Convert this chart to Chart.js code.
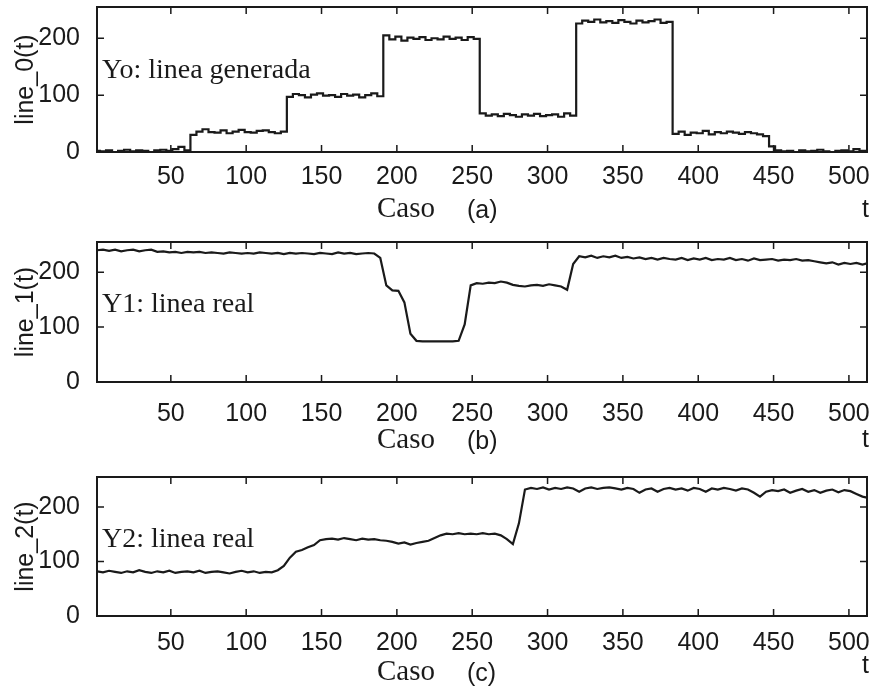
<!DOCTYPE html>
<html><head><meta charset="utf-8">
<script src="https://cdn.jsdelivr.net/npm/chart.js@4.4.1/dist/chart.umd.min.js"></script>
<style>
html,body{margin:0;padding:0;background:#fff;}
#wrap{position:relative;width:872px;height:687px;overflow:hidden;background:#fff;}
.pan{position:absolute;left:0;width:872px;}
canvas{display:block;}
</style></head><body>
<div id="wrap">
<div class="pan" style="top:0;height:230px"><canvas id="c0" width="872" height="230"></canvas></div>
<div class="pan" style="top:230px;height:230px"><canvas id="c1" width="872" height="230"></canvas></div>
<div class="pan" style="top:460px;height:227px"><canvas id="c2" width="872" height="227"></canvas></div>
</div>
<script>
// sample index (Caso)
const caso = [1,5,9,13,17,21,25,29,33,37,41,45,49,53,57,61,
65,69,73,77,81,85,89,93,97,101,105,109,113,117,121,125,
129,133,137,141,145,149,153,157,161,165,169,173,177,181,185,189,
193,197,201,205,209,213,217,221,225,229,233,237,241,245,249,253,
257,261,265,269,273,277,281,285,289,293,297,301,305,309,313,317,
321,325,329,333,337,341,345,349,353,357,361,365,369,373,377,381,
385,389,393,397,401,405,409,413,417,421,425,429,433,437,441,445,
449,453,457,461,465,469,473,477,481,485,489,493,497,501,505,509,
512];

// (a) Yo: linea generada
const line0 = [2,1,3,0,2,4,1,3,2,0,3,4,2,5,9,3,
30,36,40,35,34,38,33,36,39,35,34,37,38,35,33,36,
97,102,100,96,101,103,99,100,97,102,99,101,96,100,103,98,
205,198,203,196,201,199,202,197,200,198,203,199,201,197,202,199,
68,64,66,63,67,65,62,66,64,67,63,65,66,62,68,64,
226,231,229,233,228,230,227,232,229,226,231,228,230,233,227,229,
32,36,30,34,33,37,31,35,33,36,34,32,35,33,31,28,
10,3,1,2,0,3,1,2,4,1,0,2,3,1,5,2,
2];

// (b) Y1: linea real
const line1 = [240,241,239,241,238,240,241,238,240,241,237,238,236,237,235,237,
236,237,235,236,235,234,236,235,234,235,234,236,235,234,235,233,
235,234,235,234,233,235,234,233,236,234,235,233,234,235,234,226,
176,167,166,145,88,75,74,74,74,74,74,74,75,105,176,180,
179,181,180,183,181,177,175,174,176,177,175,178,176,174,168,215,
229,227,230,226,229,227,230,226,228,225,227,224,226,223,226,224,
223,226,222,225,223,226,222,224,223,226,222,224,221,225,222,223,
224,221,223,222,224,221,222,220,218,216,218,214,217,215,217,214,
216];

// (c) Y2: linea real
const line2 = [82,80,83,81,79,82,80,84,81,79,82,80,83,79,81,82,
80,83,79,81,82,80,78,81,83,80,82,79,81,80,84,92,
107,118,121,126,130,139,141,142,140,143,141,139,142,140,141,139,
138,136,133,135,131,134,136,138,143,148,151,150,152,150,151,150,
152,150,151,148,141,132,170,232,235,233,236,232,235,233,236,234,
228,234,236,233,235,236,234,232,235,233,226,232,234,228,233,235,
232,234,230,235,233,228,234,232,235,233,230,234,232,226,219,228,
231,229,232,226,230,233,228,231,226,230,232,227,231,229,224,219,
217];

const xTicks = [50,100,150,200,250,300,350,400,450,500];
const yTicks = [0,100,200];
const yTitles = ['line_0(t)','line_1(t)','line_2(t)'];
const notes = ['Yo: linea generada','Y1: linea real','Y2: linea real'];
const letters = ['(a)','(b)','(c)'];
const xTitle = 'Caso';
const tLabel = 't';

const INK = '#1a1a1a';
const SANS = '"Liberation Sans", Arial, Helvetica, sans-serif';
const SERIF = '"Liberation Serif", "Times New Roman", Times, serif';

const frame = {
  id: 'frame',
  afterDatasetsDraw(chart, args, o) {
    const {ctx, chartArea: a, scales: {x, y}} = chart;
    ctx.save();
    ctx.strokeStyle = INK;
    ctx.lineWidth = 2;
    ctx.strokeRect(a.left, a.top, a.right - a.left, a.bottom - a.top);
    ctx.lineWidth = 1.5;
    ctx.beginPath();
    x.ticks.forEach(t => {
      const px = x.getPixelForValue(t.value);
      ctx.moveTo(px, a.bottom); ctx.lineTo(px, a.bottom - 7);
      ctx.moveTo(px, a.top); ctx.lineTo(px, a.top + 7);
    });
    y.ticks.forEach(t => {
      const py = y.getPixelForValue(t.value);
      ctx.moveTo(a.left, py); ctx.lineTo(a.left + 7, py);
      ctx.moveTo(a.right, py); ctx.lineTo(a.right - 7, py);
    });
    ctx.stroke();
    ctx.fillStyle = INK;
    ctx.textAlign = 'left';
    ctx.textBaseline = 'alphabetic';
    ctx.font = '28px ' + SERIF;
    ctx.fillText(o.note, o.noteX, o.noteY);
    ctx.font = '29px ' + SERIF;
    ctx.fillText(xTitle, o.casoX, o.casoY);
    ctx.font = '25px ' + SANS;
    ctx.fillText(o.letter, o.letterX, o.casoY + 1);
    ctx.fillText(tLabel, o.tX, o.tY);
    ctx.restore();
  }
};

const panels = [
  {id: 'c0', data: line0, stepped: 'middle', top: 7, xh: 78, tickPad: 2, noteY: 78, casoY: 217, tY: 217},
  {id: 'c1', data: line1, stepped: false, top: 12, xh: 78, tickPad: 9, noteY: 82, casoY: 218, tY: 217},
  {id: 'c2', data: line2, stepped: false, top: 17, xh: 71, tickPad: 4, noteY: 87, casoY: 220, tY: 213}
];

panels.forEach((p, k) => {
  new Chart(document.getElementById(p.id), {
    type: 'line',
    data: {
      datasets: [{
        data: caso.map((c, i) => ({x: c, y: p.data[i]})),
        borderColor: INK,
        borderWidth: 2.2,
        pointRadius: 0,
        tension: 0,
        stepped: p.stepped,
        fill: false
      }]
    },
    options: {
      responsive: false,
      animation: false,
      events: [],
      layout: {padding: {top: p.top, right: 5, left: 0, bottom: 0}},
      plugins: {
        legend: {display: false},
        tooltip: {enabled: false},
        frame: {
          note: notes[k], noteX: 102, noteY: p.noteY,
          casoX: 377, casoY: p.casoY, letter: letters[k], letterX: 467,
          tX: 862, tY: p.tY
        }
      },
      scales: {
        x: {
          type: 'linear', min: 1, max: 512,
          afterBuildTicks: s => { s.ticks = xTicks.map(v => ({value: v})); },
          afterFit: s => { s.height = p.xh; s.paddingLeft = 0; s.paddingRight = 0; },
          grid: {display: false},
          border: {display: false},
          ticks: {autoSkip: false, maxRotation: 0, padding: p.tickPad, color: INK,
                  font: {family: SANS, size: 25}}
        },
        y: {
          type: 'linear', min: 0, max: 255,
          afterBuildTicks: s => { s.ticks = yTicks.map(v => ({value: v})); },
          afterFit: s => { s.width = 97; s.paddingTop = 0; s.paddingBottom = 0; },
          grid: {display: false},
          border: {display: false},
          ticks: {padding: 9, color: INK, font: {family: SANS, size: 25}},
          title: {display: true, text: yTitles[k], color: INK,
                  font: {family: SANS, size: 25}, padding: {top: 11, bottom: 0}}
        }
      }
    },
    plugins: [frame]
  });
});
</script>
</body></html>
